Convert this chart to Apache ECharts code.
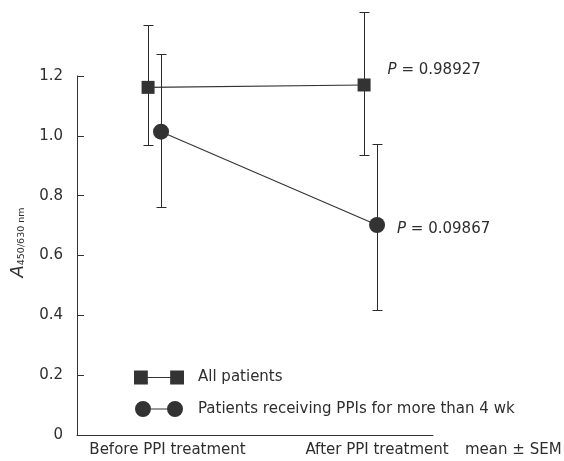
<!DOCTYPE html>
<html><head><meta charset="utf-8">
<script src="https://cdn.jsdelivr.net/npm/echarts@6/dist/echarts.min.js"></script>
<style>html,body{margin:0;padding:0;background:#fff}#c{width:564px;height:461px}</style>
</head><body><div id="c"></div>
<script>
const categories = ['Before PPI treatment', 'After PPI treatment'];
const seriesNames = ['All patients', 'Patients receiving PPIs for more than 4 wk'];
const allMean = [1.162, 1.170];
const allLow = [0.969, 0.936];
const allHigh = [1.369, 1.414];
const ppiMean = [1.014, 0.702];
const ppiLow = [0.762, 0.418];
const ppiHigh = [1.274, 0.973];
const pValues = ['0.98927', '0.09867'];
const yTicks = [0, 0.2, 0.4, 0.6, 0.8, 1.0, 1.2];
const noteText = 'mean ± SEM';

const FONT = 'DejaVu Sans';
const INK = '#2e2e2e';
const circleShift = 0.06;

function errBar(params, api) {
  const x = api.value(0), lo = api.value(1), hi = api.value(2);
  const a = api.coord([x, lo]), b = api.coord([x, hi]);
  const px = Math.round(a[0]) + 0.5;
  const ya = Math.round(a[1]) + 0.5, yb = Math.round(b[1]) + 0.5;
  const w = 5;
  const st = {stroke: '#2a2a2a', lineWidth: 1};
  return {type: 'group', children: [
    {type: 'line', shape: {x1: px, y1: ya, x2: px, y2: yb}, style: st},
    {type: 'line', shape: {x1: px - w, y1: ya, x2: px + w, y2: ya}, style: st},
    {type: 'line', shape: {x1: px - w, y1: yb, x2: px + w, y2: yb}, style: st}
  ]};
}

const sqIcon = 'path://M0 0H13V13H0ZM13 6H34V7H13ZM34 0H47V13H34Z';
const ciIcon = 'path://M0 8A8 8 0 1 0 16 8A8 8 0 1 0 0 8ZM16 7.5H32V8.5H16ZM32 8A8 8 0 1 0 48 8A8 8 0 1 0 32 8Z';

const chart = echarts.init(document.getElementById('c'));
chart.setOption({
  backgroundColor: '#fff',
  animation: false,
  grid: {left: 77, right: 131, top: 76, bottom: 26},
  legend: {
    orient: 'vertical', left: 129, top: 365, itemGap: 16,
    itemWidth: 50, itemHeight: 16,
    textStyle: {fontFamily: FONT, fontSize: 15, color: INK, padding: [0, 0, 0, 9]},
    data: [
      {name: seriesNames[0], icon: sqIcon, itemStyle: {color: '#333'}},
      {name: seriesNames[1], icon: ciIcon, itemStyle: {color: '#333'}}
    ]
  },
  xAxis: {
    type: 'value', min: -0.329, max: 1.319,
    axisLine: {show: true, onZero: false, lineStyle: {color: '#333', width: 1}},
    axisTick: {show: false}, axisLabel: {show: false}, splitLine: {show: false}
  },
  yAxis: {
    type: 'value', min: yTicks[0], max: yTicks[yTicks.length - 1], interval: 0.2,
    axisLine: {show: true, onZero: false, lineStyle: {color: '#333', width: 1}},
    axisTick: {show: true, inside: true, length: 7, lineStyle: {color: '#333'}},
    splitLine: {show: false},
    axisLabel: {fontFamily: FONT, fontSize: 15, color: INK, margin: 14,
      formatter: v => v === 0 ? '0' : v.toFixed(1)},
    name: '{a|A}{s|450/630 nm}',
    nameLocation: 'middle', nameRotate: 90, nameGap: 50,
    nameTextStyle: {
      padding: [0, 0, 0, 26],
      rich: {
        a: {fontFamily: FONT, fontSize: 18, fontStyle: 'italic', color: INK, verticalAlign: 'bottom', lineHeight: 19},
        s: {fontFamily: FONT, fontSize: 9.5, color: INK, verticalAlign: 'bottom', lineHeight: 13}
      }
    }
  },
  series: [
    {
      type: 'custom', name: 'errAll', renderItem: errBar, z: 1, silent: true,
      encode: {x: 0, y: [1, 2]},
      data: categories.map((c, i) => [i, allLow[i], allHigh[i]])
    },
    {
      type: 'custom', name: 'errPpi', renderItem: errBar, z: 1, silent: true,
      encode: {x: 0, y: [1, 2]},
      data: categories.map((c, i) => [i + circleShift, ppiLow[i], ppiHigh[i]])
    },
    {
      type: 'line', name: seriesNames[0], z: 3,
      symbol: 'rect', symbolSize: 13,
      itemStyle: {color: '#333'},
      lineStyle: {color: '#333', width: 1.1},
      data: categories.map((c, i) => i === 1 ? {
        value: [i, allMean[i]],
        label: {show: true, position: 'right', offset: [12, -15],
          formatter: '{p|P} = ' + pValues[0],
          fontFamily: FONT, fontSize: 15, color: INK,
          rich: {p: {fontFamily: FONT, fontSize: 15, fontStyle: 'italic', color: INK}}}
      } : [i, allMean[i]])
    },
    {
      type: 'line', name: seriesNames[1], z: 3,
      symbol: 'circle', symbolSize: 16,
      itemStyle: {color: '#333'},
      lineStyle: {color: '#333', width: 1.1},
      data: categories.map((c, i) => i === 1 ? {
        value: [i + circleShift, ppiMean[i]],
        label: {show: true, position: 'right', offset: [7, 4],
          formatter: '{p|P} = ' + pValues[1],
          fontFamily: FONT, fontSize: 15, color: INK,
          rich: {p: {fontFamily: FONT, fontSize: 15, fontStyle: 'italic', color: INK}}}
      } : [i + circleShift, ppiMean[i]])
    }
  ]
});

const labelShift = [0.09, circleShift];
const yPix = chart.convertToPixel({yAxisIndex: 0}, 0);
const textStyle = {fontFamily: FONT, fontSize: 15, fill: INK};
const graphics = categories.map((c, i) => ({
  type: 'text',
  x: chart.convertToPixel({xAxisIndex: 0}, i + labelShift[i]),
  y: yPix + 8,
  style: Object.assign({text: c, align: 'center', verticalAlign: 'top'}, textStyle)
}));
graphics.push({
  type: 'text', x: 465, y: yPix + 8,
  style: Object.assign({text: noteText, align: 'left', verticalAlign: 'top'}, textStyle)
});
chart.setOption({graphic: graphics});
</script>
</body></html>
